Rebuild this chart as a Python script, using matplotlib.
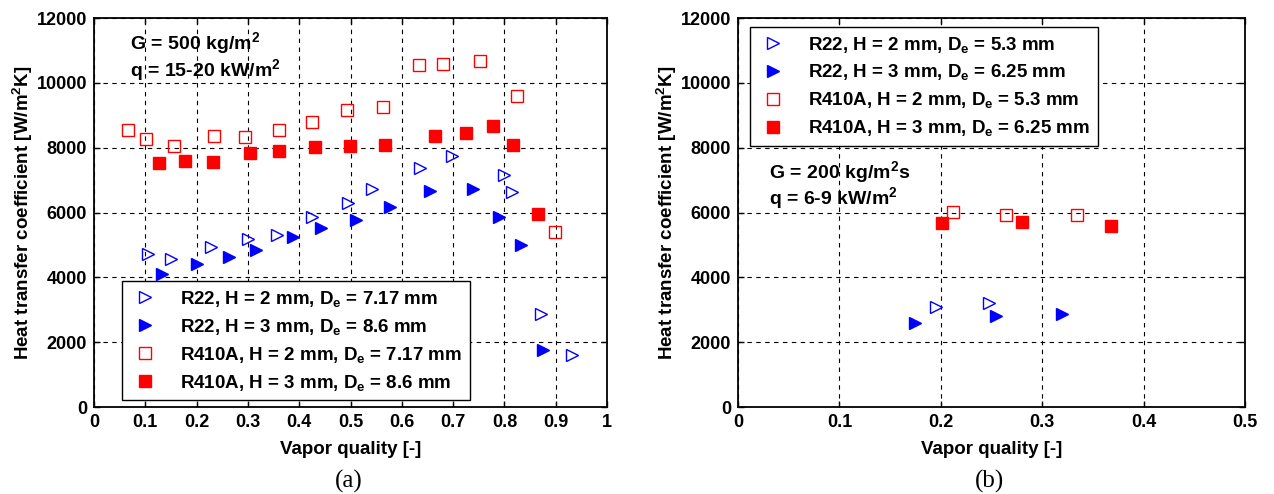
import numpy as np
import matplotlib
matplotlib.use('Agg')
import matplotlib.pyplot as plt

plt.rcParams['font.family'] = 'Liberation Sans'
plt.rcParams['font.weight'] = 'bold'
plt.rcParams['mathtext.fontset'] = 'custom'
plt.rcParams['mathtext.rm'] = 'Liberation Sans:bold'
plt.rcParams['mathtext.it'] = 'Liberation Sans:bold'
plt.rcParams['mathtext.bf'] = 'Liberation Sans:bold'
plt.rcParams['mathtext.default'] = 'rm'

# (a) G = 500 kg/m2s
a_r22_h2_x = [0.105, 0.151, 0.228, 0.301, 0.356, 0.425, 0.495, 0.542, 0.636, 0.698, 0.799, 0.815, 0.872, 0.932]
a_r22_h2_y = [4710, 4580, 4930, 5180, 5300, 5850, 6280, 6720, 7370, 7750, 7170, 6620, 2860, 1600]
a_r22_h3_x = [0.132, 0.201, 0.264, 0.315, 0.388, 0.442, 0.511, 0.577, 0.655, 0.739, 0.789, 0.832, 0.876]
a_r22_h3_y = [4110, 4400, 4640, 4850, 5250, 5530, 5770, 6180, 6670, 6720, 5850, 5010, 1770]
a_r410_h2_x = [0.066, 0.102, 0.155, 0.234, 0.294, 0.361, 0.424, 0.493, 0.563, 0.634, 0.681, 0.753, 0.824, 0.899]
a_r410_h2_y = [8550, 8260, 8040, 8360, 8340, 8560, 8800, 9160, 9270, 10550, 10590, 10670, 9590, 5400]
a_r410_h3_x = [0.126, 0.177, 0.231, 0.304, 0.361, 0.430, 0.499, 0.568, 0.664, 0.725, 0.777, 0.817, 0.866]
a_r410_h3_y = [7540, 7580, 7560, 7850, 7890, 8030, 8050, 8090, 8370, 8460, 8660, 8080, 5950]

# (b) G = 200 kg/m2s
b_r22_h2_x = [0.195, 0.247]
b_r22_h2_y = [3080, 3220]
b_r22_h3_x = [0.175, 0.254, 0.319]
b_r22_h3_y = [2600, 2820, 2870]
b_r410_h2_x = [0.212, 0.264, 0.334]
b_r410_h2_y = [6010, 5940, 5940]
b_r410_h3_x = [0.201, 0.280, 0.368]
b_r410_h3_y = [5680, 5710, 5600]

a_labels = [r'R22, H = 2 mm, D$_e$ = 7.17 mm',
            r'R22, H = 3 mm, D$_e$ = 8.6 mm',
            r'R410A, H = 2 mm, D$_e$ = 7.17 mm',
            r'R410A, H = 3 mm, D$_e$ = 8.6 mm']
b_labels = [r'R22, H = 2 mm, D$_e$ = 5.3 mm',
            r'R22, H = 3 mm, D$_e$ = 6.25 mm',
            r'R410A, H = 2 mm, D$_e$ = 5.3 mm',
            r'R410A, H = 3 mm, D$_e$ = 6.25 mm']


def draw_series(ax, xs, ys, labels):
	styles = [
		dict(marker='>', mfc='none', mec='blue', ms=9, mew=1.0),
		dict(marker='>', mfc='blue', mec='blue', ms=9, mew=1.0),
		dict(marker='s', mfc='none', mec='red', ms=8, mew=1.0),
		dict(marker='s', mfc='red', mec='red', ms=8, mew=1.0),
	]
	for x, y, lab, st in zip(xs, ys, labels, styles):
		ax.plot(x, y, linestyle='none', label=lab, **st)


def style_axes(ax, xmax, xticks):
	ax.set_xlim(0, xmax)
	ax.set_ylim(0, 12000)
	ax.set_xticks(xticks)
	ax.set_xticklabels(['%g' % t for t in xticks])
	ax.set_yticks(np.arange(0, 12001, 2000))
	ax.grid(True, color='black', linestyle=(0, (4, 4)), linewidth=0.8)
	ax.tick_params(direction='in', length=4, width=1, labelsize=13, pad=5, top=True, right=True)
	for sp in ax.spines.values():
		sp.set_linewidth(1.3)
	ax.set_xlabel('Vapor quality [-]', fontsize=13.5, fontweight='bold', labelpad=7)
	ax.set_ylabel(r'Heat transfer coefficient [W/m$^2$K]', fontsize=13.5, fontweight='bold', labelpad=1)


def add_legend(ax, loc, anchor):
	leg = ax.legend(loc=loc, bbox_to_anchor=anchor, fontsize=13.5, frameon=True,
	                fancybox=False, edgecolor='black', framealpha=1, borderpad=0.4,
	                labelspacing=0.42, handlelength=1.6, handletextpad=1.1, borderaxespad=0)
	leg.get_frame().set_linewidth(1.0)
	return leg


fig = plt.figure(figsize=(12.74, 4.94), dpi=100)
ax1 = fig.add_axes([0.0738, 0.176, 0.4027, 0.7874])
ax2 = fig.add_axes([0.5793, 0.176, 0.398, 0.7874])

draw_series(ax1, [a_r22_h2_x, a_r22_h3_x, a_r410_h2_x, a_r410_h3_x],
            [a_r22_h2_y, a_r22_h3_y, a_r410_h2_y, a_r410_h3_y], a_labels)
style_axes(ax1, 1, [0, 0.1, 0.2, 0.3, 0.4, 0.5, 0.6, 0.7, 0.8, 0.9, 1])
ax1.text(0.07, 0.935, r'G = 500 kg/m$^2$', transform=ax1.transAxes, fontsize=14, va='center')
ax1.text(0.07, 0.866, r'q = 15-20 kW/m$^2$', transform=ax1.transAxes, fontsize=14, va='center')
add_legend(ax1, 'lower left', (0.055, 0.018))

draw_series(ax2, [b_r22_h2_x, b_r22_h3_x, b_r410_h2_x, b_r410_h3_x],
            [b_r22_h2_y, b_r22_h3_y, b_r410_h2_y, b_r410_h3_y], b_labels)
style_axes(ax2, 0.5, [0, 0.1, 0.2, 0.3, 0.4, 0.5])
ax2.text(0.062, 0.605, r'G = 200 kg/m$^2$s', transform=ax2.transAxes, fontsize=14, va='center')
ax2.text(0.062, 0.538, r'q = 6-9 kW/m$^2$', transform=ax2.transAxes, fontsize=14, va='center')
add_legend(ax2, 'upper left', (0.024, 0.977))

fig.text(0.274, 0.026, '(a)', fontsize=18, family='Liberation Serif', fontweight='normal', ha='center', va='center')
fig.text(0.777, 0.026, '(b)', fontsize=18, family='Liberation Serif', fontweight='normal', ha='center', va='center')

fig.savefig('out.png', dpi=100)
